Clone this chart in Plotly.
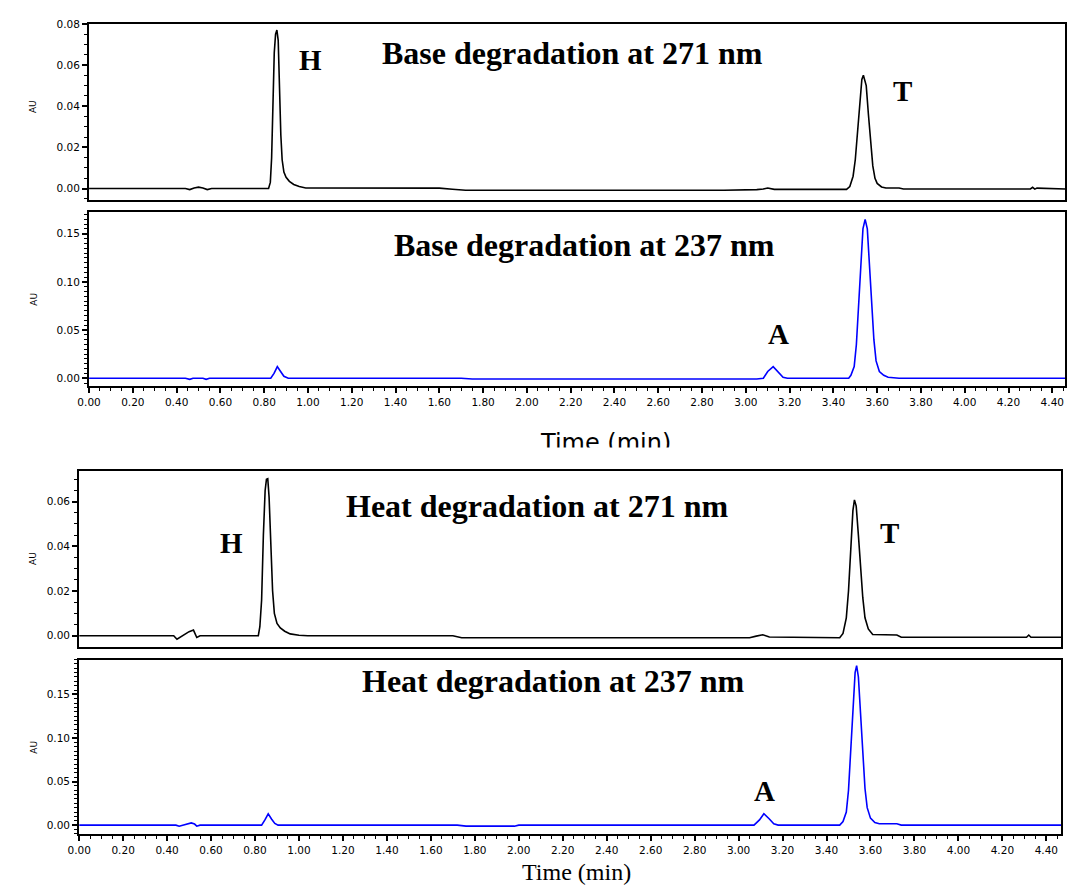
import plotly.graph_objects as go

# ---------------- data (time in min, absorbance in AU) ----------------
base_271 = [(0.00, 0.0), (0.44, 0.0), (0.46, -0.0005), (0.48, 0.0003), (0.50, 0.0007), (0.52, 0.0003),
            (0.54, -0.0005), (0.56, 0.0), (0.82, 0.0), (0.828, 0.003), (0.834, 0.015), (0.840, 0.037),
            (0.846, 0.066), (0.852, 0.075), (0.858, 0.077), (0.864, 0.072), (0.870, 0.048), (0.876, 0.026),
            (0.882, 0.014), (0.890, 0.008), (0.900, 0.0055), (0.915, 0.0035), (0.935, 0.002), (0.96, 0.001),
            (0.99, 0.0003), (1.60, 0.0002), (1.66, -0.0003), (1.72, -0.0008), (2.90, -0.0008), (3.00, -0.0007),
            (3.05, -0.0005), (3.08, -0.0002), (3.10, 0.0003), (3.13, -0.0004), (3.46, -0.0004), (3.475, 0.001),
            (3.49, 0.006), (3.50, 0.014), (3.51, 0.027), (3.52, 0.042), (3.53, 0.053), (3.537, 0.055),
            (3.55, 0.050), (3.56, 0.036), (3.57, 0.021), (3.58, 0.011), (3.59, 0.005), (3.60, 0.0025),
            (3.62, 0.0008), (3.64, 0.0003), (3.70, 0.0003), (3.72, -0.0002), (4.30, -0.0002), (4.31, 0.0006),
            (4.32, -0.0003), (4.33, 0.0002), (4.46, -0.0002)]

base_237 = [(0.00, 0.0), (0.44, 0.0), (0.46, -0.0012), (0.475, 0.0), (0.52, 0.0), (0.535, -0.0012),
            (0.55, 0.0), (0.83, 0.0), (0.845, 0.005), (0.86, 0.012), (0.875, 0.007), (0.89, 0.002),
            (0.91, 0.0), (1.70, 0.0), (1.75, -0.0008), (3.05, -0.0008), (3.08, 0.0), (3.10, 0.007),
            (3.125, 0.012), (3.15, 0.006), (3.17, 0.001), (3.19, 0.0), (3.47, 0.0), (3.48, 0.003),
            (3.495, 0.012), (3.505, 0.035), (3.515, 0.070), (3.525, 0.115), (3.535, 0.155), (3.545, 0.165),
            (3.555, 0.155), (3.565, 0.120), (3.575, 0.075), (3.585, 0.040), (3.595, 0.018), (3.61, 0.007),
            (3.63, 0.003), (3.65, 0.001), (3.70, 0.0), (4.46, 0.0)]

heat_271 = [(0.00, 0.0), (0.43, 0.0), (0.445, -0.0016), (0.47, 0.0), (0.50, 0.0018), (0.52, 0.0025),
            (0.535, -0.0008), (0.55, 0.0), (0.815, 0.0), (0.822, 0.004), (0.83, 0.016), (0.838, 0.045),
            (0.846, 0.065), (0.852, 0.070), (0.858, 0.0703), (0.864, 0.062), (0.872, 0.038), (0.880, 0.020),
            (0.888, 0.010), (0.90, 0.0055), (0.915, 0.0035), (0.935, 0.002), (0.96, 0.0008), (1.00, 0.0002),
            (1.04, 0.0), (1.70, 0.0), (1.74, -0.0009), (3.05, -0.0009), (3.08, -0.0002), (3.11, 0.0004),
            (3.14, -0.0006), (3.46, -0.0009), (3.475, 0.001), (3.49, 0.008), (3.50, 0.020), (3.51, 0.038),
            (3.52, 0.056), (3.527, 0.0608), (3.535, 0.058), (3.545, 0.045), (3.555, 0.030), (3.565, 0.017),
            (3.575, 0.008), (3.59, 0.003), (3.61, 0.0005), (3.72, 0.0003), (3.74, -0.0007), (4.31, -0.0007),
            (4.32, 0.0003), (4.33, -0.0007), (4.467, -0.0007)]

heat_237 = [(0.00, 0.0), (0.44, 0.0), (0.455, -0.0012), (0.47, 0.0), (0.49, 0.0015), (0.51, 0.0025),
            (0.525, 0.0012), (0.535, -0.0012), (0.55, 0.0), (0.83, 0.0), (0.845, 0.006), (0.86, 0.013),
            (0.875, 0.007), (0.89, 0.002), (0.905, 0.0), (1.72, 0.0), (1.76, -0.0012), (1.98, -0.0012),
            (2.00, 0.0), (3.07, 0.0), (3.095, 0.006), (3.115, 0.013), (3.14, 0.007), (3.16, 0.0015),
            (3.18, 0.0), (3.46, 0.0), (3.475, 0.004), (3.49, 0.015), (3.50, 0.040), (3.51, 0.080),
            (3.52, 0.130), (3.53, 0.175), (3.537, 0.183), (3.545, 0.170), (3.555, 0.130), (3.565, 0.080),
            (3.575, 0.042), (3.585, 0.020), (3.60, 0.008), (3.62, 0.003), (3.64, 0.0015), (3.72, 0.0015),
            (3.74, 0.0), (4.467, 0.0)]

panel_titles = ["Base degradation at 271 nm", "Base degradation at 237 nm",
                "Heat degradation at 271 nm", "Heat degradation at 237 nm"]
peak_labels = ["H", "T", "A"]
x_title = "Time (min)"
y_title = "AU"

# ---------------- layout helpers (pixel -> paper) ----------------
W, H = 1067, 886
def px(x): return x / W
def py(y): return 1 - y / H

BLACK = "#000000"
BLUE = "#0000ff"

fig = go.Figure()
series = [(base_271, BLACK, "x", "y"), (base_237, BLUE, "x2", "y2"),
          (heat_271, BLACK, "x3", "y3"), (heat_237, BLUE, "x4", "y4")]
for data, col, xa, ya in series:
    fig.add_trace(go.Scatter(x=[p[0] for p in data], y=[p[1] for p in data], mode="lines",
                             line=dict(color=col, width=1.6), xaxis=xa, yaxis=ya,
                             showlegend=False, hoverinfo="skip"))

tickfont = dict(family="DejaVu Sans", size=10.5, color=BLACK)

def xaxis(dom, rng, anchor, labels):
    d = dict(domain=dom, range=rng, anchor=anchor, showline=True, linecolor=BLACK, linewidth=2,
             mirror=True, showgrid=False, zeroline=False, tickfont=tickfont, fixedrange=True)
    if labels:
        d.update(ticks="outside", ticklen=5, tickwidth=1.5, tickcolor=BLACK, dtick=0.2, tick0=0,
                 tickformat=".2f", showticklabels=True,
                 minor=dict(ticks="outside", ticklen=3, tickwidth=1, tickcolor=BLACK, dtick=0.05, tick0=0))
    else:
        d.update(ticks="", showticklabels=False)
    return d

def yaxis(dom, rng, anchor, dtick, mdtick):
    return dict(domain=dom, range=rng, anchor=anchor, showline=True, linecolor=BLACK, linewidth=2,
                mirror=True, showgrid=False, zeroline=False, tickfont=tickfont, ticks="outside",
                ticklen=5, tickwidth=1.5, tickcolor=BLACK, dtick=dtick, tick0=0, tickformat=".2f",
                fixedrange=True,
                minor=dict(ticks="outside", ticklen=3, tickwidth=1, tickcolor=BLACK, dtick=mdtick, tick0=0))

top_x = [px(78), px(1066)]
bot_x = [px(68), px(1062)]

fig.update_layout(
    width=W, height=H, margin=dict(l=0, r=0, t=0, b=0),
    paper_bgcolor="white", plot_bgcolor="white",
    xaxis=xaxis(top_x, [0, 4.458], "y", False),
    xaxis2=xaxis(top_x, [0, 4.458], "y2", True),
    xaxis3=xaxis(bot_x, [0, 4.467], "y3", False),
    xaxis4=xaxis(bot_x, [0, 4.467], "y4", True),
    yaxis=yaxis([py(195), py(18)], [-0.0054, 0.08], "x", 0.02, 0.005),
    yaxis2=yaxis([py(383), py(207)], [-0.0085, 0.173], "x2", 0.05, 0.005),
    yaxis3=yaxis([py(645), py(468)], [-0.0049, 0.0738], "x3", 0.02, 0.005),
    yaxis4=yaxis([py(834), py(658)], [-0.0106, 0.19], "x4", 0.05, 0.005),
)

serif = "Liberation Serif"
ann = []
def text(t, x, y, size, fam=serif, bold=False, **kw):
    a = dict(text=("<b>%s</b>" % t) if bold else t, x=px(x), y=py(y), xref="paper", yref="paper",
             showarrow=False, font=dict(family=fam, size=size, color=BLACK),
             xanchor="center", yanchor="middle")
    a.update(kw)
    ann.append(a)

# panel titles
text(panel_titles[0], 567, 47, 32, bold=True)
text(panel_titles[1], 580, 241, 32, bold=True)
text(panel_titles[2], 532, 503, 32, bold=True)
text(panel_titles[3], 548, 680, 32, bold=True)
# peak labels
text(peak_labels[0], 302, 54, 29, bold=True)
text(peak_labels[1], 901, 86, 29, bold=True)
text(peak_labels[2], 776, 330, 29, bold=True)
text(peak_labels[0], 222, 541, 29, bold=True)
text(peak_labels[1], 888, 531, 29, bold=True)
text(peak_labels[2], 762, 790, 29, bold=True)
# y titles
for yc in (101, 295, 556, 746):
    text(y_title, 22, yc, 9, fam="DejaVu Sans", textangle=-90)
# x titles
text(x_title, 601, 440, 24, fam="DejaVu Sans")
text(x_title, 571, 886, 24, yanchor="bottom", borderpad=0)
# mask the clipped lower part of the upper "Time (min)" title
ann.append(dict(text=" ", x=px(601), y=py(444), xref="paper", yref="paper", showarrow=False,
                xanchor="center", yanchor="top", width=200, height=20, bgcolor="white",
                borderpad=0, font=dict(size=10)))

fig.update_layout(annotations=ann)
fig.write_html("out.html")
